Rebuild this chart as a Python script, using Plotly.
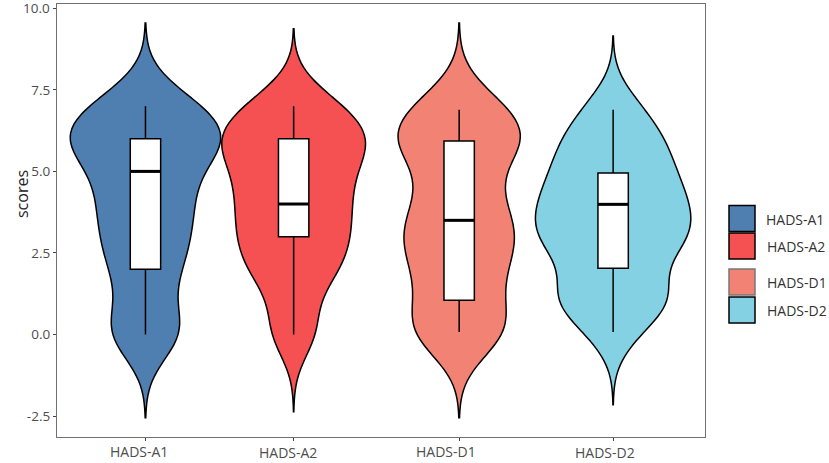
import numpy as np
import plotly.graph_objects as go

# Categories and axis ticks
CATEGORIES = ['HADS-A1', 'HADS-A2', 'HADS-D1', 'HADS-D2']
Y_TICKS = [-2.5, 0, 2.5, 5, 7.5, 10]
Y_TICK_LABELS = ['-2.5', '0.0', '2.5', '5.0', '7.5', '']
TOP_TICK_LABEL = '10.0'

# Item scores and how many respondents gave each one (estimated from the violin outlines)
SCORES = [0, 1, 2, 3, 4, 5, 6, 7]
COUNTS_A1 = [16, 5, 11, 13, 14, 13, 28, 18]
COUNTS_A2 = [10, 5, 16, 18, 18, 18, 27, 17]
COUNTS_D1 = [19, 11, 13, 19, 13, 9, 24, 15]
COUNTS_D2 = [8, 23, 14, 28, 26, 21, 18, 10]
ALL_COUNTS = [COUNTS_A1, COUNTS_A2, COUNTS_D1, COUNTS_D2]

# Box statistics
Q1 = [2, 3, 1.05, 2.03]
MEDIAN = [5, 4, 3.5, 3.99]
Q3 = [6, 6, 5.93, 4.95]
LOW = [0, 0, 0.08, 0.08]
HIGH = [7, 7, 6.89, 6.89]

# Kernel bandwidth of each violin and how far its tails reach past the data
BANDWIDTH = [0.85, 0.79, 0.85, 0.74]
TAIL = [2.55, 2.37, 2.55, 2.15]

COLORS = ['#4f7fb0', '#f55052', '#f28273', '#84d1e4']

# The panels are not evenly spaced in the original
X_POS = [1, 2, 3.117, 4.156]
VIOLIN_WIDTH = [1.01, 0.967, 0.823, 1.048]
BOX_WIDTH = 0.205

# Plot area in pixels
WIDTH, HEIGHT = 829, 463
LEFT, RIGHT, TOP, BOTTOM = 57, 705, 4, 437

LABEL_COLOR = '#4d4d4d'
FONT = 'Open Sans'


def px_x(value):
    return (value - LEFT) / (RIGHT - LEFT)


def px_y(value):
    return (BOTTOM - value) / (BOTTOM - TOP)


fig = go.Figure()

for i, name in enumerate(CATEGORIES):
    values = np.repeat(SCORES, ALL_COUNTS[i])
    fig.add_trace(go.Violin(
        x0=X_POS[i],
        y=values,
        name=name,
        bandwidth=BANDWIDTH[i],
        spanmode='manual',
        span=[values.min() - TAIL[i], values.max() + TAIL[i]],
        scalemode='width',
        width=VIOLIN_WIDTH[i],
        points=False,
        fillcolor=COLORS[i],
        opacity=1,
        line=dict(color='black', width=1.5),
        showlegend=False,
    ))

for i, name in enumerate(CATEGORIES):
    fig.add_trace(go.Box(
        x=[X_POS[i]],
        q1=[Q1[i]],
        median=[MEDIAN[i]],
        q3=[Q3[i]],
        lowerfence=[LOW[i]],
        upperfence=[HIGH[i]],
        width=BOX_WIDTH,
        whiskerwidth=0,
        fillcolor='white',
        line=dict(color='black', width=1.5),
        name=name,
        showlegend=False,
    ))

# Thicker median bars on top of the boxes
fig.add_trace(go.Scatter(
    x=X_POS,
    y=MEDIAN,
    mode='markers',
    marker=dict(symbol='line-ew', size=21.5, line=dict(color='black', width=3)),
    showlegend=False,
    hoverinfo='skip',
))

# x labels sit a little off their ticks in the original, so they are annotations
label_shift = [-6, -5.5, -13, -8]
label_y = [451.5, 453, 451.5, 453]
for i, name in enumerate(CATEGORIES):
    fig.add_annotation(x=X_POS[i], y=px_y(label_y[i]), xref='x', yref='paper', yanchor='middle', text=name,
                       showarrow=False, xshift=label_shift[i], font=dict(size=14, color=LABEL_COLOR, family=FONT))

# plotly drops or makes room for a tick label this close to the top edge, so this one is an annotation
fig.add_annotation(x=0, y=Y_TICKS[-1], xref='paper', yref='y', xanchor='right', yanchor='middle', xshift=-5,
                   text=TOP_TICK_LABEL, showarrow=False, font=dict(size=13.5, color=LABEL_COLOR, family=FONT))

fig.add_annotation(x=px_x(9), y=px_y(194), xref='paper', yref='paper', text='scores', textangle=-90,
                   showarrow=False, font=dict(size=16, color='#222222', family=FONT))

# Hand-placed key, spacing is uneven in the original
key_top = [205.5, 233, 269, 297]
key_text_x = [764, 765, 765, 765]
key_line = ['black', 'black', '#777777', 'black']
for i, name in enumerate(CATEGORIES):
    fig.add_shape(type='rect', xref='paper', yref='paper',
                  x0=px_x(729), x1=px_x(755), y0=px_y(key_top[i]), y1=px_y(key_top[i] + 26),
                  fillcolor=COLORS[i], line=dict(color=key_line[i], width=1.5))
    fig.add_annotation(x=px_x(key_text_x[i]), y=px_y(key_top[i] + 13.5), xref='paper', yref='paper', text=name,
                       xanchor='left', yanchor='middle', showarrow=False,
                       font=dict(size=14, color='#333333', family=FONT))

fig.update_layout(
    width=WIDTH,
    height=HEIGHT,
    margin=dict(l=LEFT, r=WIDTH - RIGHT, t=TOP, b=HEIGHT - BOTTOM),
    plot_bgcolor='white',
    paper_bgcolor='white',
    violinmode='overlay',
    boxmode='overlay',
    showlegend=False,
    xaxis=dict(range=[0.403, 4.776], tickvals=X_POS, showticklabels=False, ticks='outside', ticklen=3,
               tickcolor='#444444', showgrid=False, zeroline=False, showline=True, mirror=True,
               linecolor='#707070', linewidth=1.2),
    yaxis=dict(range=[-3.14, 10.13], tickvals=Y_TICKS, ticktext=Y_TICK_LABELS, ticks='outside', ticklen=3,
               tickcolor='#444444', tickfont=dict(size=13.5, color=LABEL_COLOR, family=FONT), showgrid=False,
               zeroline=False, showline=True, mirror=True, linecolor='#707070', linewidth=1.2),
)

# the default page margin would push the chart 8px off
fig.write_html("out.html", config={'displayModeBar': False}, post_script="document.body.style.margin = '0';")
